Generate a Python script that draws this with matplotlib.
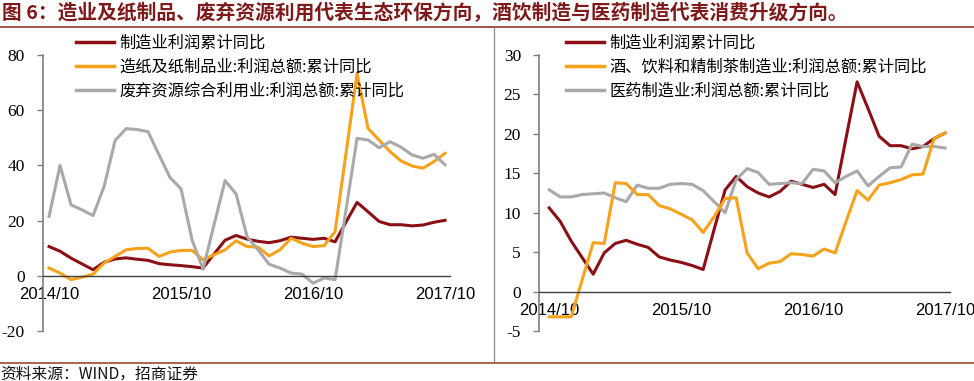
import matplotlib
matplotlib.use("Agg")
import matplotlib.pyplot as plt
from matplotlib.lines import Line2D

plt.rcParams["font.family"] = ["Noto Sans CJK SC", "DejaVu Sans"]

# monthly cumulative YoY, 2014/10 .. 2017/10 (37 points)
tick_pos = [0, 12, 24, 36]
tick_labels = ["2014/10", "2015/10", "2016/10", "2017/10"]

mfg = [10.6, 8.9, 6.4, 4.3, 2.2, 4.9, 6.1, 6.5, 6.0, 5.6, 4.4, 4.0, 3.7, 3.3, 2.8,
       7.9, 12.9, 14.6, 13.3, 12.5, 12.0, 12.7, 14.0, 13.6, 13.2, 13.6, 12.3,
       19.5, 26.6, 23.2, 19.7, 18.5, 18.5, 18.1, 18.4, 19.4, 20.1]

paper = [2.8, 1.0, -1.4, -0.5, 0.6, 4.6, 7.0, 9.4, 9.9, 10.0, 7.0, 8.6, 9.2, 9.2, 5.8,
         7.6, 9.4, 12.7, 10.6, 10.4, 7.2, 9.4, 13.6, 11.8, 10.6, 10.9, 16.0,
         44.5, 73.3, 53.4, 49.2, 45.0, 41.6, 39.8, 39.0, 41.4, 44.4]

waste = [21.5, 40.0, 25.7, 23.9, 21.8, 32.3, 49.0, 53.3, 53.0, 52.2, 43.8, 35.6, 31.5,
         13.0, 2.4, 18.5, 34.5, 29.7, 14.2, 9.4, 4.2, 2.8, 1.0, 0.6, -2.7, -0.8, -1.4,
         24.0, 49.8, 49.2, 46.4, 48.6, 46.6, 43.8, 42.6, 44.0, 40.2]

drink = [-3.2, -3.2, -3.2, 1.5, 6.2, 6.1, 13.8, 13.7, 12.3, 12.3, 10.9, 10.5, 9.8,
         9.1, 7.5, 9.5, 11.8, 11.9, 4.9, 2.9, 3.6, 3.8, 4.8, 4.7, 4.5, 5.4, 4.9,
         8.9, 12.8, 11.6, 13.5, 13.8, 14.2, 14.8, 14.9, 19.4, 20.1]

pharma = [12.9, 12.0, 12.0, 12.3, 12.4, 12.5, 11.9, 11.4, 13.5, 13.1, 13.1, 13.6, 13.7,
          13.6, 12.8, 11.4, 10.0, 14.2, 15.6, 15.1, 13.6, 13.7, 13.8, 13.7, 15.5, 15.3,
          13.8, 14.6, 15.3, 13.4, 14.6, 15.7, 15.8, 18.7, 18.4, 18.4, 18.2]

left_names = ["制造业利润累计同比", "造纸及纸制品业:利润总额:累计同比", "废弃资源综合利用业:利润总额:累计同比"]
right_names = ["制造业利润累计同比", "酒、饮料和精制茶制造业:利润总额:累计同比", "医药制造业:利润总额:累计同比"]

c_red = "#8B1016"
c_orange = "#F7A21B"
c_grey = "#A9A9A9"
title_color = "#7E1A1A"

W, H = 974, 381
fig = plt.figure(figsize=(W / 100, H / 100), dpi=100)


def px_axes(x0, x1, y0, y1):
    return fig.add_axes([x0 / W, 1 - y1 / H, (x1 - x0) / W, (y1 - y0) / H])


def style(ax, ylim, yticks, xlim):
    x = list(range(len(mfg)))
    # spines first: moving a spine resets the ticks
    for s in ["top", "right"]:
        ax.spines[s].set_visible(False)
    ax.spines["left"].set_color("#7F7F7F")
    ax.spines["left"].set_linewidth(1.2)
    ax.spines["bottom"].set_position(("data", 0))
    ax.spines["bottom"].set_color("#3F3F3F")
    ax.spines["bottom"].set_linewidth(1.0)
    ax.set_xlim(*xlim)
    ax.set_ylim(*ylim)
    ax.set_yticks(yticks)
    ax.set_yticklabels([str(t) for t in yticks], family="Liberation Serif", fontsize=12.5)
    ax.set_xticks(tick_pos)
    ax.set_xticklabels(tick_labels, family="Liberation Sans", fontsize=12)
    ax.tick_params(axis="y", direction="out", length=4, width=1, color="#7F7F7F", pad=9)
    ax.tick_params(axis="x", length=0, pad=8)
    ax.set_facecolor("none")
    return x


# left panel
ax1 = px_axes(43, 450, 55, 331)
x = style(ax1, (-20, 80), [-20, 0, 20, 40, 60, 80], (-0.55, 36.45))
ax1.plot(x, mfg, color=c_red, lw=2.2)
ax1.plot(x, paper, color=c_orange, lw=2.2)
ax1.plot(x, waste, color=c_grey, lw=2.2)

# right panel
ax2 = px_axes(539, 950, 55, 331)
x = style(ax2, (-5, 30), [-5, 0, 5, 10, 15, 20, 25, 30], (-0.93, 36.45))
ax2.plot(x, mfg, color=c_red, lw=2.2)
ax2.plot(x, pharma, color=c_grey, lw=2.2)
ax2.plot(x, drink, color=c_orange, lw=2.2)


def legend(names, x0):
    handles = [Line2D([], [], color=c, lw=2.5) for c in (c_red, c_orange, c_grey)]
    fig.legend(handles, names, loc="upper left", bbox_to_anchor=(x0 / W, 1 - 35 / H),
               frameon=False, borderpad=0, borderaxespad=0, handlelength=2.35,
               handletextpad=0.3, labelspacing=0.42, fontsize=11.7)


legend(left_names, 76)
legend(right_names, 566)

# title, rules and source
fig.text(2 / W, 1 - 13 / H, "图 6：造业及纸制品、废弃资源利用代表生态环保方向，酒饮制造与医药制造代表消费升级方向。",
         color=title_color, fontsize=14.2, fontweight="bold", va="center", ha="left")
fig.add_artist(Line2D([0, 1], [1 - 27 / H, 1 - 27 / H], color="#8B3A2E", lw=1.2))
fig.add_artist(Line2D([494 / W, 494 / W], [1 - 28 / H, 1 - 362 / H], color="#8C8C8C", lw=0.9))
fig.add_artist(Line2D([0, 1], [1 - 362.5 / H, 1 - 362.5 / H], color="#9A4A30", lw=1.2))
fig.text(0, 1 - 374 / H, "资料来源：WIND，招商证券", fontsize=11.3, va="center", ha="left", color="#111111")

fig.savefig("out.png", dpi=100)
